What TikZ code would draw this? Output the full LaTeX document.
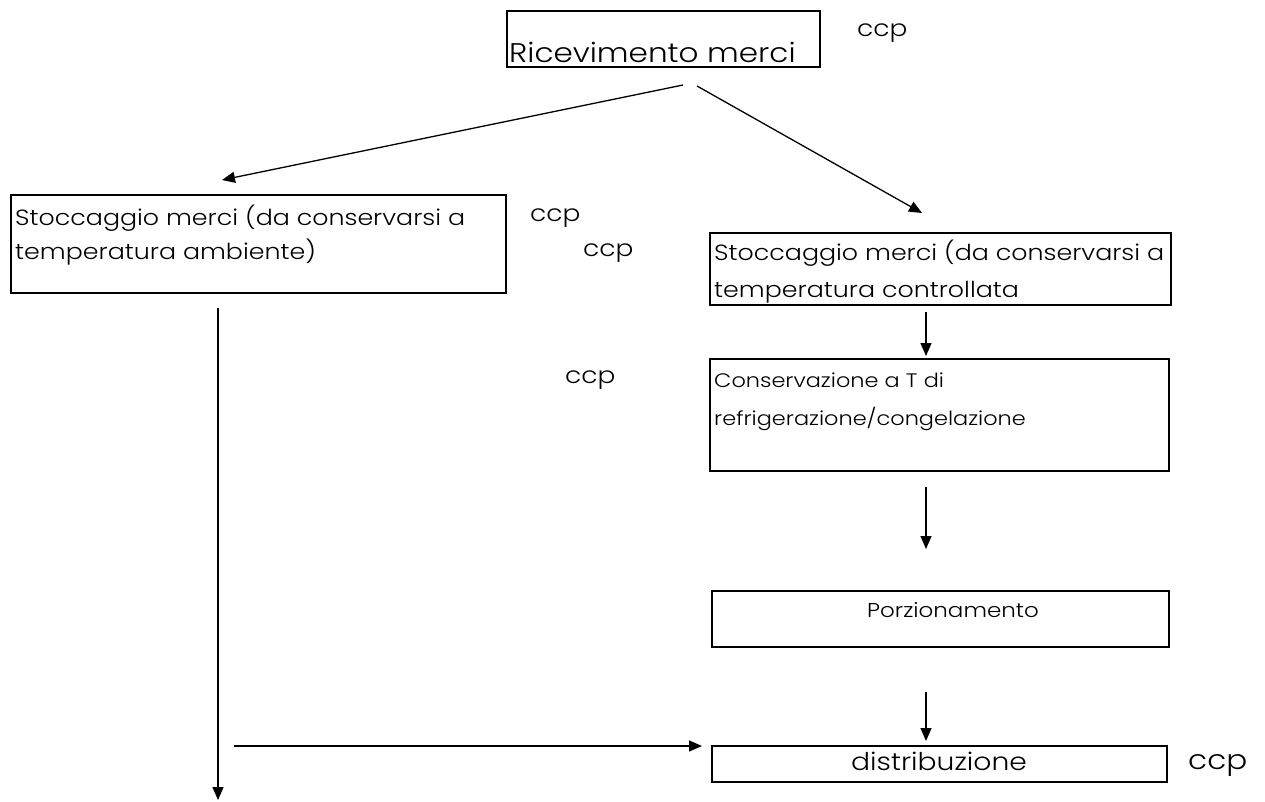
\documentclass[tikz,border=0pt]{standalone}
\usepackage{fontspec}
\setmainfont{Poppins Light}[FakeStretch=1.15]
\usetikzlibrary{arrows.meta,calc}
\begin{document}
\begin{tikzpicture}[x=1pt,y=-1pt,
  stepbox/.style={draw,line width=1.6pt,inner sep=0pt,anchor=north west},
  lbl/.style={inner sep=0pt,anchor=base west},
  boxtext/.style={lbl,font=\fontsize{22}{34}\selectfont,align=left},
  ctltext/.style={lbl,font=\fontsize{22}{36}\selectfont,align=left},
  smalltext/.style={lbl,font=\fontsize{19.5}{38}\selectfont,align=left},
  ccptext/.style={lbl,font=\fontsize{23}{26}\selectfont},
  flow/.style={line width=1.3pt,-{Triangle[length=13pt,width=11pt]}}]
\useasboundingbox (0,0) rectangle (1265,802);

% boxes
\node[stepbox,minimum width=313pt,minimum height=56pt] (ric) at (506,10) {};
\node[stepbox,minimum width=495pt,minimum height=98pt] (amb) at (10,194) {};
\node[stepbox,minimum width=461pt,minimum height=72pt] (ctl) at (709,232) {};
\node[stepbox,minimum width=459pt,minimum height=112pt] (cons) at (709,358) {};
\node[stepbox,minimum width=457pt,minimum height=56pt] (porz) at (711,590) {};
\node[stepbox,minimum width=455pt,minimum height=36pt] (dist) at (711,745) {};

% box texts (multi-line nodes sit on the baseline of their last line)
\node[lbl,font=\fontsize{27}{30}\selectfont] (ricT) at (509,63) {Ricevimento merci};
\node[boxtext] (ambT) at (15,259) {Stoccaggio merci (da conservarsi a\\temperatura ambiente)};
\node[ctltext] (ctlT) at (714,297) {Stoccaggio merci (da conservarsi a\\temperatura controllata};
\node[smalltext] (consT) at (714,425) {Conservazione a T di\\refrigerazione/congelazione};
\node[lbl,font=\fontsize{20}{24}\selectfont,anchor=base] (porzT) at (953,617) {Porzionamento};
\node[lbl,font=\fontsize{24.5}{28}\selectfont,anchor=base] (distT) at (939,770) {distribuzione};

% ccp marks
\node[ccptext] (c1) at (857,37) {ccp};
\node[ccptext] (c2) at (530,222) {ccp};
\node[ccptext] (c3) at (583,256) {ccp};
\node[ccptext] (c4) at (565,383) {ccp};
\node[lbl,font=\fontsize{27}{30}\selectfont] (c5) at (1188,769) {ccp};

% connector end points
\coordinate (rL) at (683,85);
\coordinate (rR) at (697,86);
\coordinate (ambIn) at (222,180);
\coordinate (ctlIn) at (922,213);
\coordinate (ambOut) at (218,308);
\coordinate (ambEnd) at (218,800);
\coordinate (hS) at (234,746);
\coordinate (hE) at (702,746);
\coordinate (a1) at (926,312);
\coordinate (a1e) at (926,356);
\coordinate (a2) at (926,487);
\coordinate (a2e) at (926,549);
\coordinate (a3) at (926,692);
\coordinate (a3e) at (926,741);

% connectors
\draw[flow] (rL) -- (ambIn);
\draw[flow] (rR) -- (ctlIn);
\draw[flow] (ambOut) -- (ambEnd);
\draw[flow] (hS) -- (hE);
\draw[flow] (a1) -- (a1e);
\draw[flow] (a2) -- (a2e);
\draw[flow] (a3) -- (a3e);
\end{tikzpicture}
\end{document}
